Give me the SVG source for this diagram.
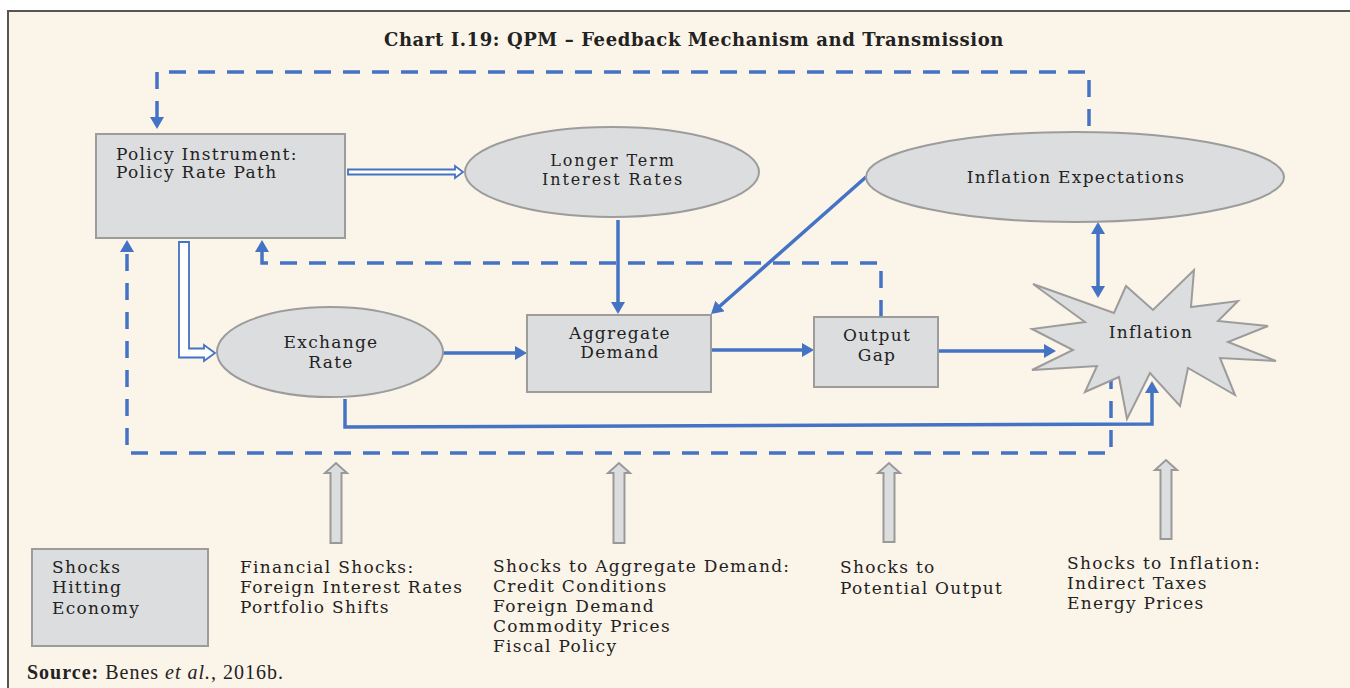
<svg xmlns="http://www.w3.org/2000/svg" width="1350" height="688" viewBox="0 0 1350 688">
<defs>
<style>
.bg{fill:#FBF4E9}
.frame{fill:none;stroke:#555;stroke-width:2}
.node{fill:#DCDDDF;stroke:#9C9C9C;stroke-width:2}
.t{font-family:"DejaVu Serif","Liberation Serif",serif;font-size:17px;letter-spacing:1.3px;fill:#222}
.tc{text-anchor:middle}
.sm{font-size:16px;letter-spacing:1.9px}
.title{font-family:"DejaVu Serif","Liberation Serif",serif;font-size:18px;letter-spacing:0.6px;font-weight:bold;fill:#222;text-anchor:middle}
.src{font-family:"Liberation Serif",serif;font-size:20px;letter-spacing:1px;fill:#222}
.solid{fill:none;stroke:#4472C4;stroke-width:3.5}
.dash{fill:none;stroke:#4472C4;stroke-width:3.5;stroke-dasharray:17 12}
.hollow{fill:#FFFFFF;stroke:#4472C4;stroke-width:1.8}
.shock{fill:#DCDDDF;stroke:#999;stroke-width:2}
</style>
<marker id="ah" viewBox="0 0 12 14" refX="6" refY="7" markerWidth="12" markerHeight="14" markerUnits="userSpaceOnUse" orient="auto-start-reverse">
<path d="M0,0 L12,7 L0,14 Z" fill="#4472C4"/>
</marker>
</defs>
<rect x="0" y="0" width="1350" height="688" fill="#FFFFFF"/>
<rect class="bg" x="8" y="11" width="1342" height="677"/>
<path class="frame" d="M8,688 V11 H1350"/>
<text class="title" x="694" y="46">Chart I.19: QPM – Feedback Mechanism and Transmission</text>

<g id="connectors">
<path class="dash" d="M1089,126 V72 H157 V123" marker-end="url(#ah)"/>
<path class="dash" d="M881,317 V263 H262 V246" marker-end="url(#ah)"/>
<path class="dash" d="M1111,372 V453 H127 V246" marker-end="url(#ah)"/>
<path class="solid" d="M618,220 V308" marker-end="url(#ah)"/>
<path class="solid" d="M866,177 L715.5,310" marker-end="url(#ah)"/>
<path class="solid" d="M443,353 H521" marker-end="url(#ah)"/>
<path class="solid" d="M711,350 H808" marker-end="url(#ah)"/>
<path class="solid" d="M939,351 H1050" marker-end="url(#ah)"/>
<path class="solid" d="M345,399 V427 L1152,424 V387" marker-end="url(#ah)"/>
<path class="solid" d="M1098,228 V292" marker-start="url(#ah)" marker-end="url(#ah)"/>
<path class="hollow" d="M348,169.5 H455 V166 L463,172 L455,178 V174.5 H348 Z"/>
<path class="hollow" d="M179,242 H189 V348.5 H204 V345 L215,353 L204,361 V357.5 H179 Z"/>
</g>

<g id="policy">
<rect class="node" x="96" y="134" width="249" height="104"/>
<text class="t" x="116" y="160">Policy Instrument:</text>
<text class="t" x="116" y="178">Policy Rate Path</text>
</g>
<g id="longer-term">
<ellipse class="node" cx="612" cy="172" rx="147" ry="45"/>
<text class="t tc sm" x="613" y="166">Longer Term</text>
<text class="t tc sm" x="613" y="185">Interest Rates</text>
</g>
<g id="inflation-expectations">
<ellipse class="node" cx="1075" cy="177" rx="209" ry="45"/>
<text class="t tc" x="1076" y="183">Inflation Expectations</text>
</g>
<g id="exchange-rate">
<ellipse class="node" cx="330" cy="352" rx="113" ry="45"/>
<text class="t tc" x="331" y="348">Exchange</text>
<text class="t tc" x="331" y="368">Rate</text>
</g>
<g id="aggregate-demand">
<rect class="node" x="527" y="315" width="184" height="77"/>
<text class="t tc" x="620" y="339">Aggregate</text>
<text class="t tc" x="620" y="358">Demand</text>
</g>
<g id="output-gap">
<rect class="node" x="814" y="317" width="124" height="70"/>
<text class="t tc" x="877" y="341">Output</text>
<text class="t tc" x="877" y="361">Gap</text>
</g>
<g id="inflation">
<polygon class="node" points="1033,284 1114,313 1126,286 1153,310 1194,270 1191,307 1238,301 1218,321 1268,326 1228,342 1276,361 1220,358 1235,395 1188,368 1180,406 1150,373 1127,419 1119,377 1085,392 1097,366 1032,370 1073,350 1032,329 1085,322"/>
<text class="t tc" x="1151" y="338">Inflation</text>
</g>

<g id="shock-arrows">
<path class="shock" d="M330.5,543 V473 H325 L336,463 L347,473 H341.5 V543 Z"/>
<path class="shock" d="M613.5,543 V473 H608 L619,463 L630,473 H624.5 V543 Z"/>
<path class="shock" d="M883.5,542 V473 H878 L889,463 L900,473 H894.5 V542 Z"/>
<path class="shock" d="M1160.5,539 V470 H1155 L1166,460 L1177,470 H1171.5 V539 Z"/>
</g>

<g id="shocks-box">
<rect class="node" x="32" y="549" width="176" height="97"/>
<text class="t" x="52" y="573">Shocks</text>
<text class="t" x="52" y="593">Hitting</text>
<text class="t" x="52" y="614">Economy</text>
</g>
<g id="financial-shocks">
<text class="t" x="240" y="573">Financial Shocks:</text>
<text class="t" x="240" y="593">Foreign Interest Rates</text>
<text class="t" x="240" y="613">Portfolio Shifts</text>
</g>
<g id="demand-shocks">
<text class="t" x="493" y="572">Shocks to Aggregate Demand:</text>
<text class="t" x="493" y="592">Credit Conditions</text>
<text class="t" x="493" y="612">Foreign Demand</text>
<text class="t" x="493" y="632">Commodity Prices</text>
<text class="t" x="493" y="652">Fiscal Policy</text>
</g>
<g id="potential-shocks">
<text class="t" x="840" y="573">Shocks to</text>
<text class="t" x="840" y="594">Potential Output</text>
</g>
<g id="inflation-shocks">
<text class="t" x="1067" y="569">Shocks to Inflation:</text>
<text class="t" x="1067" y="589">Indirect Taxes</text>
<text class="t" x="1067" y="609">Energy Prices</text>
</g>
<text class="src" x="27" y="679"><tspan font-weight="bold">Source:</tspan> Benes <tspan font-style="italic">et al.</tspan>, 2016b.</text>
</svg>
